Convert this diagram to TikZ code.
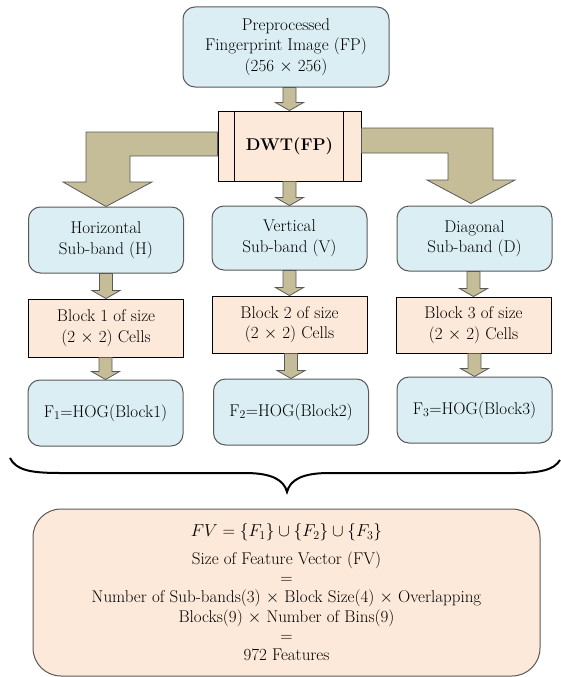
\documentclass[tikz,border=0pt]{standalone}
\usetikzlibrary{calc}
\definecolor{boxblue}{HTML}{DAEEF3}
\definecolor{boxpeach}{HTML}{FDE9D9}
\definecolor{arrowtan}{HTML}{C4BD97}
\definecolor{edgegray}{HTML}{595959}
% small block arrow from one node down to the next
\newcommand{\downblock}[2]{%
  \filldraw[arrowbox] let \p1=(#1.south), \p2=(#2.north) in
    (\x2-6.5pt,\y1) -- (\x2+6.5pt,\y1) -- (\x2+6.5pt,\y2+8pt) -- (\x2+14pt,\y2+8pt)
    -- (\x2,\y2) -- (\x2-14pt,\y2+8pt) -- (\x2-6.5pt,\y2+8pt) -- cycle;}
\begin{document}
\begin{tikzpicture}[x=1pt,y=-1pt,
  every node/.style={font=\fontsize{17}{20.5}\selectfont, align=center, inner sep=0pt},
  bluebox/.style={draw=edgegray, fill=boxblue, rounded corners=12pt, line width=1pt, minimum width=155pt},
  peachbox/.style={draw=black, fill=boxpeach, line width=0.9pt, minimum width=155pt},
  arrowbox/.style={draw=edgegray, fill=arrowtan, line width=0.8pt}]
\useasboundingbox (0,0) rectangle (560,677);
%%%% Input image and DWT:
\node[bluebox, minimum width=206pt, minimum height=80pt] (img) at (286,47) {Preprocessed\\Fingerprint Image (FP)\\(256 $\times$ 256)};
\node[peachbox, minimum width=143pt, minimum height=70pt, font=\fontsize{17}{20}\selectfont\bfseries] (dwt) at (289.5,146) {DWT(FP)};
\draw[line width=0.9pt] ([xshift=17pt]dwt.north west) -- ([xshift=17pt]dwt.south west);
\draw[line width=0.9pt] ([xshift=-18pt]dwt.north east) -- ([xshift=-18pt]dwt.south east);
%%%% Sub-bands:
\node[bluebox, minimum height=66pt] (hor) at (106,240) {Horizontal\\Sub-band (H)};
\node[bluebox, minimum height=64pt] (ver) at (289.5,238) {Vertical\\Sub-band (V)};
\node[bluebox, minimum height=65pt] (dia) at (474.5,238.5) {Diagonal\\Sub-band (D)};
%%%% Blocks:
\node[peachbox, minimum height=58pt] (blk1) at (106,328) {Block 1 of size\\(2 $\times$ 2) Cells};
\node[peachbox, minimum height=57pt] (blk2) at (289.5,324.5) {Block 2 of size\\(2 $\times$ 2) Cells};
\node[peachbox, minimum height=56pt] (blk3) at (473.5,325) {Block 3 of size\\(2 $\times$ 2) Cells};
%%%% HOG features:
\node[bluebox, minimum height=66pt] (hog1) at (105.5,413) {F\textsubscript{1}=HOG(Block1)};
\node[bluebox, minimum height=66pt] (hog2) at (291,412) {F\textsubscript{2}=HOG(Block2)};
\node[bluebox, minimum height=66pt] (hog3) at (474.5,410) {F\textsubscript{3}=HOG(Block3)};
%%%% Feature vector:
\node[draw=edgegray, fill=boxpeach, rounded corners=28pt, line width=1pt, minimum width=507pt, minimum height=167pt,
  font=\fontsize{17}{19.3}\selectfont] (fv) at (286.5,592.5)
  {$FV=\{F_1\}\cup\{F_2\}\cup\{F_3\}$\\[8pt]
   Size of Feature Vector (FV)\\=\\
   Number of Sub-bands(3) $\times$ Block Size(4) $\times$ Overlapping\\
   Blocks(9) $\times$ Number of Bins(9)\\=\\972 Features};
%%%% Block arrows:
\foreach \a/\b in {img/dwt, dwt/ver, hor/blk1, ver/blk2, dia/blk3, blk1/hog1, blk2/hog2, blk3/hog3}
  \downblock{\a}{\b};
\filldraw[arrowbox] ([yshift=14pt]dwt.west) -- (86,132) -- (86,182) -- (63,182) -- (hor.north)
  -- (152,182) -- (130,182) -- (130,156) -- ([yshift=-10pt]dwt.west) -- cycle;
\filldraw[arrowbox] ([yshift=18pt]dwt.east) -- (493,128) -- (493,180) -- (515,180) -- ([xshift=-3.5pt,yshift=2pt]dia.north)
  -- (427,180) -- (448,180) -- (448,153) -- ([yshift=-7pt]dwt.east) -- cycle;
%%%% Brace:
\draw[line width=2pt] (10,458) .. controls (16,470) and (30,473) .. (60,473) -- (245,473)
  .. controls (272,473) and (284,480) .. (287,492) .. controls (290,480) and (302,473) .. (329,473)
  -- (515,473) .. controls (540,473) and (554,470) .. (560,460);
\end{tikzpicture}
\end{document}
